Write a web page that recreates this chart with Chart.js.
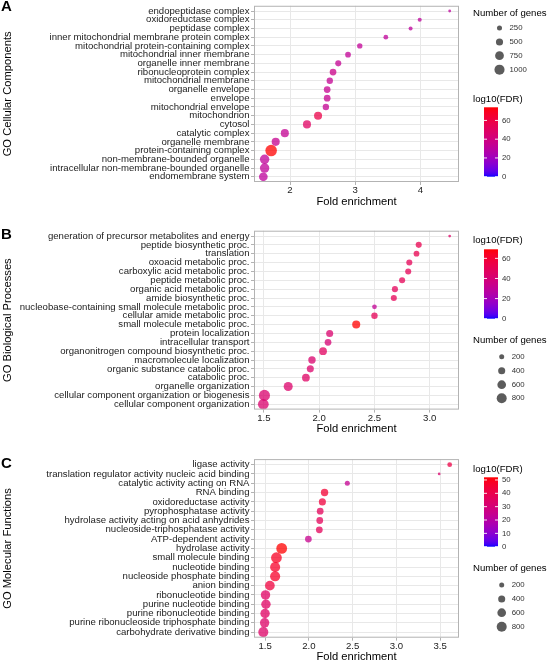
<!DOCTYPE html>
<html>
<head>
<meta charset="utf-8">
<script src="https://cdn.jsdelivr.net/npm/chart.js@4.4.1/dist/chart.umd.min.js"></script>
<style>
  html, body { margin: 0; padding: 0; background: #fff; }
  #wrap { position: relative; width: 548px; height: 663px; overflow: hidden; }
  canvas { position: absolute; left: 0; }
</style>
</head>
<body>
<div id="wrap">
  <canvas id="panelA" width="548" height="215" style="top:0px"></canvas>
  <canvas id="panelB" width="548" height="225" style="top:215px"></canvas>
  <canvas id="panelC" width="548" height="223" style="top:440px"></canvas>
</div>
<script>
// --- DATA (top-to-bottom order as in the figure) ---
const termsA = ['endopeptidase complex', 'oxidoreductase complex', 'peptidase complex',
  'inner mitochondrial membrane protein complex', 'mitochondrial protein-containing complex',
  'mitochondrial inner membrane', 'organelle inner membrane', 'ribonucleoprotein complex',
  'mitochondrial membrane', 'organelle envelope', 'envelope', 'mitochondrial envelope',
  'mitochondrion', 'cytosol', 'catalytic complex', 'organelle membrane',
  'protein-containing complex', 'non-membrane-bounded organelle',
  'intracellular non-membrane-bounded organelle', 'endomembrane system'];
const foldA  = [4.45, 3.99, 3.85, 3.47, 3.07, 2.89, 2.74, 2.66, 2.61, 2.57, 2.57, 2.55, 2.43, 2.26, 1.92, 1.78, 1.71, 1.61, 1.61, 1.59];
const genesA = [80, 160, 160, 220, 285, 320, 360, 445, 400, 445, 445, 400, 640, 640, 640, 640, 1300, 870, 870, 750];
const fdrA   = [31, 31, 31, 32, 33, 33, 34, 37, 34, 35, 35, 34, 58, 50, 34, 35, 74, 32, 32, 31];

const termsB = ['generation of precursor metabolites and energy', 'peptide biosynthetic proc.', 'translation',
  'oxoacid metabolic proc.', 'carboxylic acid metabolic proc.', 'peptide metabolic proc.',
  'organic acid metabolic proc.', 'amide biosynthetic proc.',
  'nucleobase-containing small molecule metabolic proc.', 'cellular amide metabolic proc.',
  'small molecule metabolic proc.', 'protein localization', 'intracellular transport',
  'organonitrogen compound biosynthetic proc.', 'macromolecule localization',
  'organic substance catabolic proc.', 'catabolic proc.', 'organelle organization',
  'cellular component organization or biogenesis', 'cellular component organization'];
const foldB  = [3.18, 2.90, 2.88, 2.815, 2.805, 2.75, 2.685, 2.675, 2.50, 2.50, 2.335, 2.095, 2.08, 2.035, 1.935, 1.92, 1.88, 1.72, 1.505, 1.495];
const genesB = [60, 295, 265, 295, 295, 295, 295, 295, 180, 330, 520, 400, 365, 480, 440, 400, 480, 660, 990, 930];
const fdrB   = [45, 52, 52, 50, 50, 50, 49, 50, 31, 50, 69, 43, 41, 47, 43, 44, 46, 44, 43, 43];

const termsC = ['ligase activity', 'translation regulator activity nucleic acid binding',
  'catalytic activity acting on RNA', 'RNA binding', 'oxidoreductase activity',
  'pyrophosphatase activity', 'hydrolase activity acting on acid anhydrides',
  'nucleoside-triphosphatase activity', 'ATP-dependent activity', 'hydrolase activity',
  'small molecule binding', 'nucleotide binding', 'nucleoside phosphate binding', 'anion binding',
  'ribonucleotide binding', 'purine nucleotide binding', 'purine ribonucleotide binding',
  'purine ribonucleoside triphosphate binding', 'carbohydrate derivative binding'];
const foldC  = [3.61, 3.49, 2.44, 2.18, 2.155, 2.13, 2.125, 2.12, 1.995, 1.69, 1.63, 1.615, 1.615, 1.555, 1.505, 1.51, 1.50, 1.495, 1.48];
const genesC = [180, 60, 205, 440, 400, 365, 365, 365, 365, 930, 930, 815, 815, 760, 710, 710, 710, 710, 815];
const fdrC   = [41, 32, 24, 45, 43, 37, 37, 37, 25, 52, 48, 47, 47, 43, 35, 35, 35, 34, 34];

const xTicksA = [2, 3, 4];
const xTicksB = [1.5, 2.0, 2.5, 3.0];
const xTicksC = [1.5, 2.0, 2.5, 3.0, 3.5];
const sizeKeysA = [250, 500, 750, 1000];
const sizeKeysBC = [200, 400, 600, 800];
const fdrTicksAB = [0, 20, 40, 60];
const fdrTicksC = [0, 10, 20, 30, 40, 50];

const FONT = '"Liberation Sans", Arial, Helvetica, sans-serif';

// --- blue -> red gradient interpolated in Lab (like ggplot) ---
const toLin = c => { c /= 255; return c <= 0.04045 ? c / 12.92 : Math.pow((c + 0.055) / 1.055, 2.4); };
const toSrgb = c => { c = c <= 0.0031308 ? 12.92 * c : 1.055 * Math.pow(c, 1 / 2.4) - 0.055; return Math.round(Math.max(0, Math.min(1, c)) * 255); };
const fLab = t => t > 0.008856 ? Math.cbrt(t) : 7.787 * t + 16 / 116;
const fInv = t => t * t * t > 0.008856 ? t * t * t : (t - 16 / 116) / 7.787;
function rgbToLab([r, g, b]) {
    r = toLin(r); g = toLin(g); b = toLin(b);
    const X = (0.4124 * r + 0.3576 * g + 0.1805 * b) / 0.95047;
    const Y = 0.2126 * r + 0.7152 * g + 0.0722 * b;
    const Z = (0.0193 * r + 0.1192 * g + 0.9505 * b) / 1.08883;
    const fx = fLab(X), fy = fLab(Y), fz = fLab(Z);
    return [116 * fy - 16, 500 * (fx - fy), 200 * (fy - fz)];
}
function labToRgb([L, a, bb]) {
    const fy = (L + 16) / 116, fx = fy + a / 500, fz = fy - bb / 200;
    const X = 0.95047 * fInv(fx), Y = fInv(fy), Z = 1.08883 * fInv(fz);
    return [toSrgb(3.2406 * X - 1.5372 * Y - 0.4986 * Z),
            toSrgb(-0.9689 * X + 1.8758 * Y + 0.0415 * Z),
            toSrgb(0.0557 * X - 0.2040 * Y + 1.0570 * Z)];
}
const labLow = rgbToLab([0, 0, 255]);
const labHigh = rgbToLab([255, 0, 0]);
const gradColor = (t, alpha) => {
    t = Math.max(0, Math.min(1, t));
    const [r, g, b] = labToRgb(labLow.map((v, i) => v + (labHigh[i] - v) * t));
    return `rgba(${r},${g},${b},${alpha})`;
};

// --- legends, letter and panel border drawn on top ---
const panelDecor = {
    id: 'panelDecor',
    afterDraw(chart, args, o) {
        const { ctx, chartArea: a } = chart;
        ctx.save();
        ctx.strokeStyle = '#b3b3b3';
        ctx.lineWidth = 1;
        ctx.strokeRect(a.left + 0.5, a.top + 0.5, a.right - a.left - 1, a.bottom - a.top - 1);

        ctx.fillStyle = '#000';
        ctx.textAlign = 'left';
        ctx.textBaseline = 'middle';
        ctx.font = `bold 15px ${FONT}`;
        ctx.fillText(o.letter, 1, o.letterY);

        // colour bar
        const cb = o.colorbar;
        ctx.font = `9.6px ${FONT}`;
        ctx.fillStyle = '#000';
        ctx.fillText('log10(FDR)', 473, cb.titleY);
        const grad = ctx.createLinearGradient(0, cb.bottom, 0, cb.top);
        for (let i = 0; i <= 40; i++) grad.addColorStop(i / 40, gradColor(i / 40, 1));
        ctx.fillStyle = grad;
        ctx.fillRect(484, cb.top, 14, cb.bottom - cb.top);
        ctx.font = `7.8px ${FONT}`;
        cb.ticks.forEach(v => {
            const y = cb.bottom - v / o.fdrMax * (cb.bottom - cb.top);
            ctx.strokeStyle = 'rgba(255,255,255,0.9)';
            ctx.beginPath();
            ctx.moveTo(484, y); ctx.lineTo(487, y);
            ctx.moveTo(495, y); ctx.lineTo(498, y);
            ctx.stroke();
            ctx.fillStyle = '#333';
            ctx.fillText(String(v), 502, y);
        });

        // size key
        const sk = o.sizeKey;
        ctx.font = `9.6px ${FONT}`;
        ctx.fillStyle = '#000';
        ctx.fillText('Number of genes', 473, sk.titleY);
        ctx.font = `7.8px ${FONT}`;
        sk.values.forEach((v, i) => {
            ctx.fillStyle = 'rgba(51,51,51,0.8)';
            ctx.beginPath();
            ctx.arc(sk.dotX, sk.ys[i], o.k * Math.sqrt(v), 0, Math.PI * 2);
            ctx.fill();
            ctx.fillStyle = '#333';
            ctx.fillText(String(v), sk.dotX + 10, sk.ys[i]);
        });
        ctx.restore();
    }
};

function makePanel(id, terms, fold, genes, fdr, cfg) {
    const lo = Math.min(...fold), hi = Math.max(...fold), pad = (hi - lo) * 0.05;
    const fdrMax = Math.max(...fdr);
    const points = terms.map((t, i) => ({ x: fold[i], y: i, r: cfg.k * Math.sqrt(genes[i]) }));
    const colors = fdr.map(v => gradColor(v / fdrMax, 0.75));

    return new Chart(document.getElementById(id), {
        type: 'bubble',
        data: { datasets: [{ data: points, backgroundColor: colors, borderWidth: 0, hoverBorderWidth: 0 }] },
        options: {
            responsive: false, animation: false, devicePixelRatio: 1, events: [],
            layout: { padding: { top: cfg.padTop, right: 89, bottom: cfg.padBottom, left: 0 } },
            plugins: {
                legend: { display: false },
                tooltip: { enabled: false },
                panelDecor: { letter: cfg.letter, letterY: cfg.letterY, colorbar: cfg.colorbar,
                              sizeKey: cfg.sizeKey, k: cfg.k, fdrMax }
            },
            scales: {
                x: {
                    type: 'linear', bounds: 'data', min: lo - pad, max: hi + pad,
                    afterBuildTicks: s => { s.ticks = cfg.xTicks.map(v => ({ value: v })); },
                    afterFit: s => { s.height = 25.3; s.paddingLeft = 0; s.paddingRight = 0; },
                    ticks: { autoSkip: false, maxRotation: 0, padding: 0, color: '#222',
                             font: { family: FONT, size: 9.6 }, callback: v => cfg.fmt(v) },
                    grid: { color: '#e8e8e8', lineWidth: 1, tickLength: 3, tickColor: '#b3b3b3' },
                    border: { display: false },
                    title: { display: true, text: 'Fold enrichment', color: '#000', padding: 0,
                             font: { family: FONT, size: 11.2, lineHeight: 1 } }
                },
                y: {
                    type: 'linear', bounds: 'data', reverse: true, min: -0.6, max: terms.length - 0.4,
                    afterBuildTicks: s => { s.ticks = terms.map((t, i) => ({ value: i })); },
                    afterFit: s => { s.width = 254; s.paddingTop = 0; s.paddingBottom = 0; },
                    ticks: { autoSkip: false, padding: 1.5, color: '#222',
                             font: { family: FONT, size: 9.6 }, callback: v => terms[v] },
                    grid: { color: '#e8e8e8', lineWidth: 1, tickLength: 3, tickColor: '#b3b3b3' },
                    border: { display: false },
                    title: { display: true, text: cfg.yTitle, color: '#000', padding: { top: 2, bottom: 0 },
                             font: { family: FONT, size: 11.2, lineHeight: 1 } }
                }
            }
        },
        plugins: [panelDecor]
    });
}

makePanel('panelA', termsA, foldA, genesA, fdrA, {
    letter: 'A', letterY: 7, yTitle: 'GO Cellular Components', xTicks: xTicksA, fmt: v => String(v),
    k: 0.16, padTop: 2, padBottom: 7.7,
    sizeKey: { titleY: 13.3, dotX: 499.5, ys: [28, 42, 55.7, 69.7], values: sizeKeysA },
    colorbar: { titleY: 99.3, top: 107.3, bottom: 176.7, ticks: fdrTicksAB }
});
makePanel('panelB', termsB, foldB, genesB, fdrB, {
    letter: 'B', letterY: 20, yTitle: 'GO Biological Processes', xTicks: xTicksB, fmt: v => v.toFixed(1),
    k: 0.177, padTop: 15.7, padBottom: 5.1,
    colorbar: { titleY: 25.7, top: 34.3, bottom: 103.7, ticks: fdrTicksAB },
    sizeKey: { titleY: 125.7, dotX: 501.7, ys: [141.7, 155.7, 169.7, 183.3], values: sizeKeysBC }
});
makePanel('panelC', termsC, foldC, genesC, fdrC, {
    letter: 'C', letterY: 24, yTitle: 'GO Molecular Functions', xTicks: xTicksC, fmt: v => v.toFixed(1),
    k: 0.177, padTop: 19.1, padBottom: 0,
    colorbar: { titleY: 29.3, top: 37.3, bottom: 106.7, ticks: fdrTicksC },
    sizeKey: { titleY: 128.3, dotX: 501.7, ys: [145, 159, 172.7, 186.7], values: sizeKeysBC }
});
</script>
</body>
</html>
